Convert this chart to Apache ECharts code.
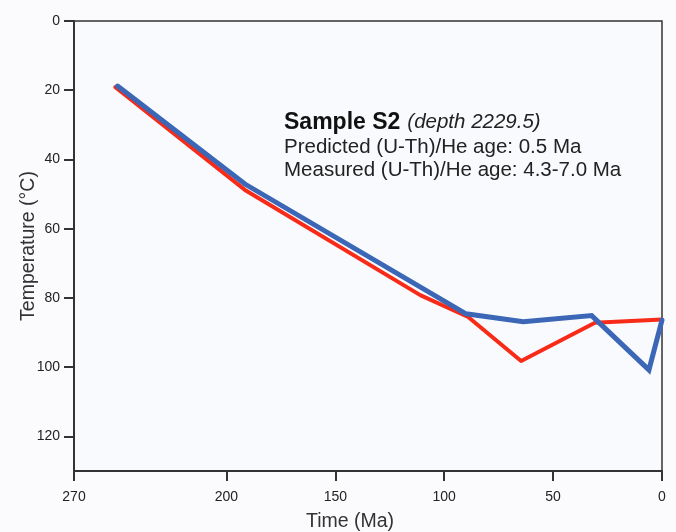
<!DOCTYPE html>
<html>
<head>
<meta charset="utf-8">
<script src="https://cdn.jsdelivr.net/npm/echarts@6/dist/echarts.min.js"></script>
<style>
html,body{margin:0;padding:0;background:#fbfbfd;}
#chart{width:676px;height:532px;}
</style>
</head>
<body>
<div id="chart"></div>
<script>
// Data (time in Ma, temperature in °C)
const redTimes = [251, 191.5, 111, 89, 64.7, 30.8, 0];
const redTemps = [19.1, 48.8, 79.2, 85.5, 98.2, 87.2, 86.2];
const blueTimes = [250, 191.5, 90, 63.7, 32.3, 6.0, 0];
const blueTemps = [18.8, 47.1, 84.6, 86.9, 85.1, 100.8, 86.4];
const xTickLabels = [270, 200, 150, 100, 50, 0];
const yTickLabels = [0, 20, 40, 60, 80, 100, 120];
const titleText = 'Sample S2';
const depthText = '(depth 2229.5)';
const predictedText = 'Predicted (U-Th)/He age: 0.5 Ma';
const measuredText = 'Measured (U-Th)/He age: 4.3-7.0 Ma';

const font = 'Arial, "Liberation Sans", Helvetica, sans-serif';
const chart = echarts.init(document.getElementById('chart'));
chart.setOption({
  backgroundColor: '#fbfbfd',
  animation: false,
  grid: {left: 74, right: 14, top: 21, bottom: 61, containLabel: false, outerBoundsMode: 'none',
         show: true, borderColor: '#333', borderWidth: 1.5, backgroundColor: '#f9fafd'},
  xAxis: {
    type: 'value', min: 0, max: 270, inverse: true, position: 'bottom',
    name: 'Time (Ma)', nameLocation: 'middle', nameGap: 41, nameMoveOverlap: false,
    nameTextStyle: {fontFamily: font, fontSize: 19.5, color: '#333', padding: [0, 36, 0, 0]},
    axisLine: {show: true, onZero: false, lineStyle: {color: '#333', width: 2}},
    axisTick: {show: true, length: 10, lineStyle: {color: '#333', width: 2}, customValues: xTickLabels},
    axisLabel: {fontFamily: font, fontSize: 14, color: '#222', margin: 19, customValues: xTickLabels, showMinLabel: true, showMaxLabel: true},
    splitLine: {show: false}
  },
  yAxis: {
    type: 'value', min: 0, max: 130, inverse: true, position: 'left',
    name: 'Temperature (°C)', nameLocation: 'middle', nameGap: 35, nameMoveOverlap: false,
    nameTextStyle: {fontFamily: font, fontSize: 19.5, color: '#333'},
    axisLine: {show: true, onZero: false, lineStyle: {color: '#333', width: 2}},
    axisTick: {show: true, length: 10, lineStyle: {color: '#333', width: 2}, customValues: yTickLabels},
    axisLabel: {fontFamily: font, fontSize: 14, color: '#222', margin: 14, customValues: yTickLabels},
    splitLine: {show: false}
  },
  series: [
    {type: 'line', data: redTimes.map((t, i) => [t, redTemps[i]]), symbol: 'none', z: 2,
     lineStyle: {color: '#f82a18', width: 4, join: 'round', cap: 'round'}},
    {type: 'line', data: blueTimes.map((t, i) => [t, blueTemps[i]]), symbol: 'none', z: 3,
     lineStyle: {color: '#3c67b6', width: 5, join: 'miter', cap: 'round'}}
  ],
  graphic: [
    {type: 'text', left: 284, top: 111, style: {
      text: '{b|' + titleText + '}{s| }{i|' + depthText + '}',
      rich: {
        b: {fontFamily: font, fontSize: 23, fontWeight: 'bold', fill: '#111'},
        s: {fontFamily: font, fontSize: 20.5, width: 7},
        i: {fontFamily: font, fontSize: 20.5, fontStyle: 'italic', fill: '#222'}
      }
    }},
    {type: 'text', left: 284, top: 137, style: {text: predictedText, fontFamily: font, fontSize: 20.5, fill: '#222'}},
    {type: 'text', left: 284, top: 160, style: {text: measuredText, fontFamily: font, fontSize: 20.5, fill: '#222'}}
  ]
});
</script>
</body>
</html>
